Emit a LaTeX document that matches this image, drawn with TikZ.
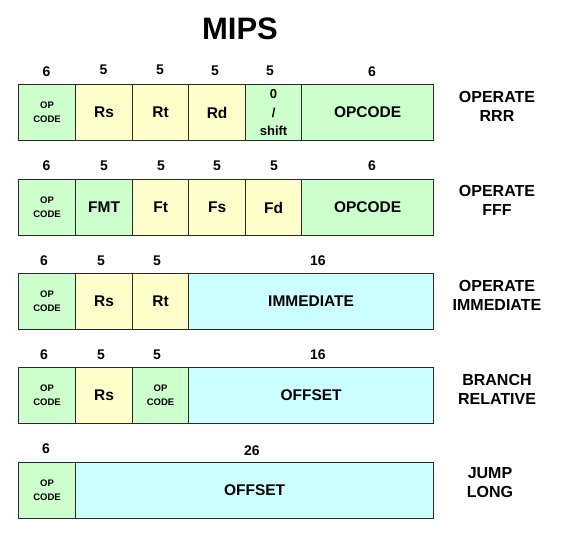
\documentclass[tikz,border=0pt]{standalone}
\usepackage{fontspec}
\setmainfont{Liberation Sans}
\definecolor{grn}{HTML}{CCFFCC}
\definecolor{ylw}{HTML}{FFFFCC}
\definecolor{cyn}{HTML}{CCFFFF}
\definecolor{edge}{HTML}{2A2A2A}
\begin{document}
\begin{tikzpicture}[x=1pt,y=-1pt,
  cell/.style={draw=edge, line width=1.2pt, anchor=north west, inner sep=0pt,
    minimum height=56pt, font=\fontsize{15.5}{18}\selectfont\bfseries, align=center},
  gcell/.style={cell, fill=grn},
  ycell/.style={cell, fill=ylw},
  ccell/.style={cell, fill=cyn},
  opc/.style={font=\fontsize{9.5}{14}\selectfont\bfseries},
  shf/.style={font=\fontsize{13}{18.5}\selectfont\bfseries},
  num/.style={font=\fontsize{14}{16}\selectfont\bfseries, inner sep=0pt},
  lab/.style={font=\fontsize{16}{19}\selectfont\bfseries, align=center, inner sep=0pt}
]
\useasboundingbox (0,0) rectangle (566,541);
\node[font=\fontsize{31}{36}\selectfont\bfseries, inner sep=0pt] (title) at (240,29) {MIPS};

% Row 1
\node[gcell, minimum width=57pt, opc] (a1) at (18,84) {OP\\CODE};
\node[ycell, minimum width=57pt] (a2) at (75,84) {Rs};
\node[ycell, minimum width=56pt] (a3) at (132,84) {Rt};
\node[ycell, minimum width=57pt] (a4) at (188,84) {Rd};
\node[gcell, minimum width=56pt, shf] (a5) at (245,84) {0\\/\\shift};
\node[gcell, minimum width=132pt] (a6) at (301,84) {OPCODE};
\node[num] (na1) at (46.5,72) {6};
\node[num] (na2) at (103.5,70) {5};
\node[num] (na3) at (160,70) {5};
\node[num] (na4) at (215,71) {5};
\node[num] (na5) at (270,71) {5};
\node[num] (na6) at (372,72) {6};
\node[lab] (la) at (497,106) {OPERATE\\RRR};

% Row 2
\node[gcell, minimum width=57pt, opc] (b1) at (18,179) {OP\\CODE};
\node[gcell, minimum width=57pt] (b2) at (75,179) {FMT};
\node[ycell, minimum width=56pt] (b3) at (132,179) {Ft};
\node[ycell, minimum width=57pt] (b4) at (188,179) {Fs};
\node[ycell, minimum width=56pt] (b5) at (245,179) {Fd};
\node[gcell, minimum width=132pt] (b6) at (301,179) {OPCODE};
\node[num] (nb1) at (46.5,166) {6};
\node[num] (nb2) at (104,166) {5};
\node[num] (nb3) at (161,166) {5};
\node[num] (nb4) at (217,166) {5};
\node[num] (nb5) at (274,166) {5};
\node[num] (nb6) at (372,166) {6};
\node[lab] (lb) at (497,200) {OPERATE\\FFF};

% Row 3
\node[gcell, minimum width=57pt, opc] (c1) at (18,273) {OP\\CODE};
\node[ycell, minimum width=57pt] (c2) at (75,273) {Rs};
\node[ycell, minimum width=56pt] (c3) at (132,273) {Rt};
\node[ccell, minimum width=245pt] (c4) at (188,273) {IMMEDIATE};
\node[num] (nc1) at (44,261) {6};
\node[num] (nc2) at (101,261) {5};
\node[num] (nc3) at (157,261) {5};
\node[num] (nc4) at (318,261) {16};
\node[lab] (lc) at (497,295) {OPERATE\\IMMEDIATE};

% Row 4
\node[gcell, minimum width=57pt, opc] (d1) at (18,367) {OP\\CODE};
\node[ycell, minimum width=57pt] (d2) at (75,367) {Rs};
\node[gcell, minimum width=56pt, opc] (d3) at (132,367) {OP\\CODE};
\node[ccell, minimum width=245pt] (d4) at (188,367) {OFFSET};
\node[num] (nd1) at (44,355) {6};
\node[num] (nd2) at (101,355) {5};
\node[num] (nd3) at (157,355) {5};
\node[num] (nd4) at (318,355) {16};
\node[lab] (ld) at (497,389) {BRANCH\\RELATIVE};

% Row 5
\node[gcell, minimum width=57pt, opc] (e1) at (18,462) {OP\\CODE};
\node[ccell, minimum width=358pt] (e2) at (75,462) {OFFSET};
\node[num] (ne1) at (46,449) {6};
\node[num] (ne2) at (252,451) {26};
\node[lab] (le) at (490,483) {JUMP\\LONG};
\end{tikzpicture}
\end{document}
